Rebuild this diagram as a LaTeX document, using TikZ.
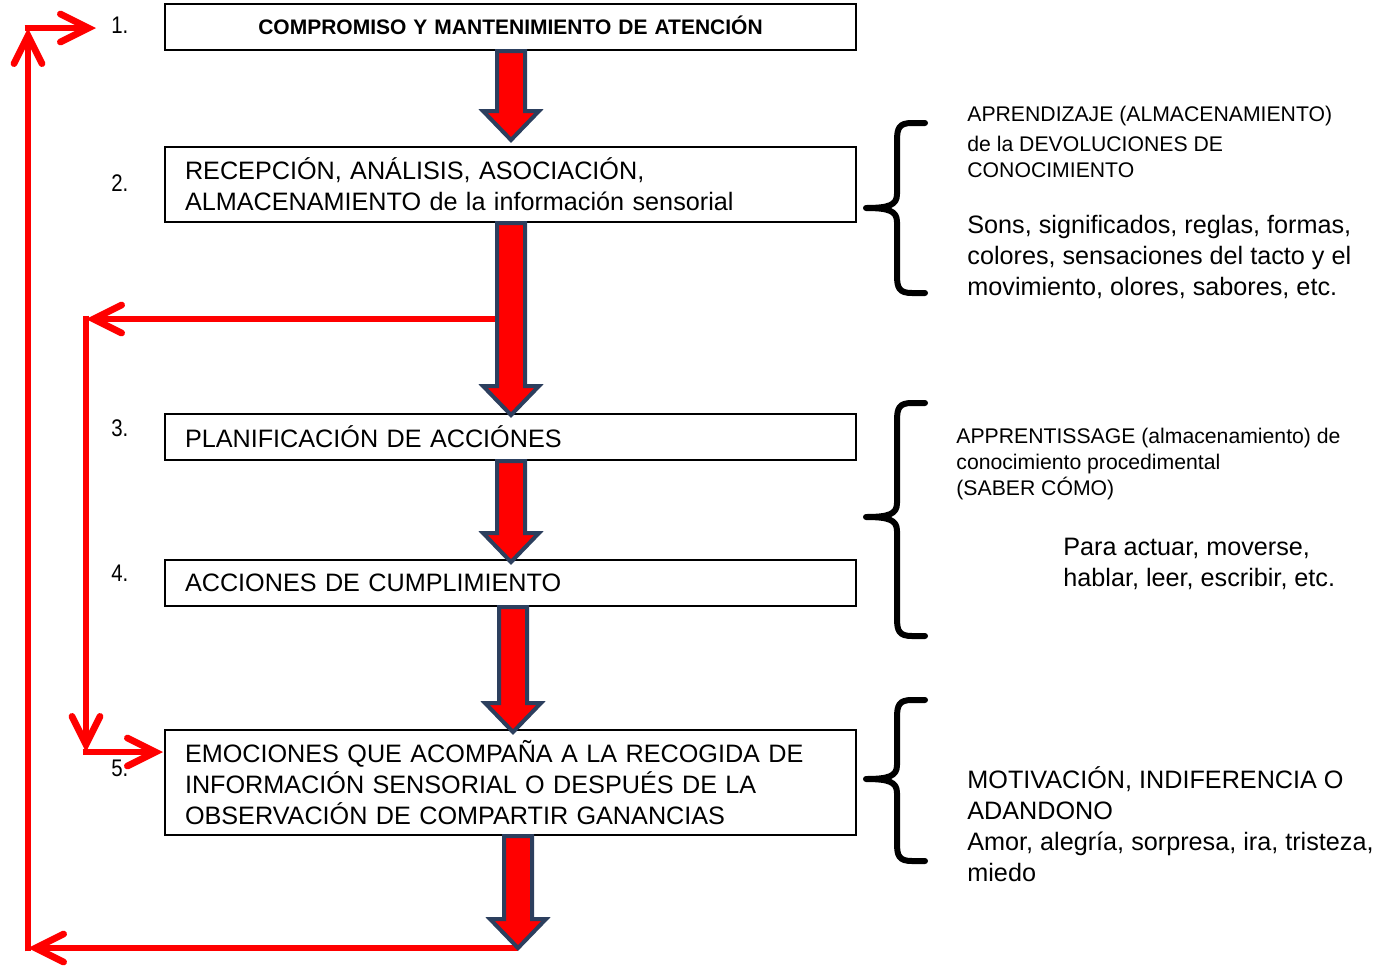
\documentclass[tikz,border=0pt]{standalone}
\usepackage{fontspec}
\setmainfont{Liberation Sans}
\usetikzlibrary{arrows.meta,calc}
\definecolor{arrowedge}{HTML}{2C3F5E}
\definecolor{loopred}{HTML}{FF0000}
\newcommand\blockarrow[2]{%
  \filldraw[blockarr] let \p1=#1, \p2=#2 in
   (\x2-7pt,\y1) -- (\x2+7pt,\y1) -- (\x2+7pt,\y2+14.5pt) -- (\x2+14pt,\y2+14.5pt)
   -- (\x2,\y2) -- (\x2-14pt,\y2+14.5pt) -- (\x2-7pt,\y2+14.5pt) -- cycle;}
\newcommand\curlybrace[3]{%
  \draw[bracestroke] (925,#1) -- (912,#1) .. controls (899,#1) and (897,#1+5) .. (897,#1+18)
   -- (897,#2-14) .. controls (897,#2-3) and (889,#2) .. (866,#2)
   .. controls (889,#2) and (897,#2+3) .. (897,#2+14)
   -- (897,#3-18) .. controls (897,#3-5) and (899,#3) .. (912,#3) -- (925,#3);}
\begin{document}
\begin{tikzpicture}[x=0.5pt,y=-0.5pt,
  box/.style={draw=black,line width=1pt,fill=white,minimum width=345.5pt,
    inner xsep=10pt,inner ysep=0pt,text width=325.5pt,align=left,
    font=\fontsize{12.6}{15.5}\selectfont},
  num/.style={anchor=base west,inner sep=0pt,
    font=\addfontfeature{FakeStretch=0.85}\fontsize{12}{12}\selectfont},
  bigtext/.style={anchor=base west,inner sep=0pt,align=left,
    font=\fontsize{12.6}{15.5}\selectfont},
  smalltext/.style={anchor=base west,inner sep=0pt,align=left,
    font=\fontsize{10.6}{13}\selectfont},
  blockarr/.style={fill=loopred,draw=arrowedge,line width=2pt,line join=miter},
  loopline/.style={draw=loopred,line width=3.4pt,
    -{Straight Barb[length=14pt,width=14pt,line cap=round]}},
  bracestroke/.style={draw=black,line width=3pt,line cap=round,line join=round}]
\useasboundingbox (0,0) rectangle (1382,965);

% boxes
\node[box,minimum height=23pt,align=center,
  font=\bfseries\fontsize{10.5}{12}\selectfont] (b1) at (510.5,27)
  {\raisebox{1.5pt}{COMPROMISO Y MANTENIMIENTO DE ATENCIÓN}};
\node[box,minimum height=37.5pt] (b2) at (510.5,184.5)
  {RECEPCIÓN, ANÁLISIS, ASOCIACIÓN,\\ALMACENAMIENTO de la información sensorial};
\node[box,minimum height=23pt] (b3) at (510.5,437) {PLANIFICACIÓN DE ACCIÓNES};
\node[box,minimum height=23pt] (b4) at (510.5,583) {ACCIONES DE CUMPLIMIENTO};
\node[box,minimum height=52.5pt] (b5) at (510.5,782.5)
  {EMOCIONES QUE ACOMPAÑA A LA RECOGIDA DE\\INFORMACIÓN SENSORIAL O DESPUÉS DE LA\\OBSERVACIÓN DE COMPARTIR GANANCIAS};

% numbers
\node[num] (n1) at (111,33) {1.};
\node[num] (n2) at (111,191) {2.};
\node[num] (n3) at (111,436) {3.};
\node[num] (n4) at (111,581) {4.};
\node[num] (n5) at (111,776) {5.};

% coordinates for arrow tips and loop corners
\coordinate (a1) at (511,140);
\coordinate (a2) at (511,415);
\coordinate (a3) at (511,562);
\coordinate (a4) at (513,732);
\coordinate (a5) at (518,948);
\coordinate (tl) at (28,28);
\coordinate (tr) at (96,28);
\coordinate (bl) at (28,948);
\coordinate (jn) at (511,319);
\coordinate (il) at (86,319);
\coordinate (ib) at (86,752);
\coordinate (ie) at (163,752);

% red loops
\draw[loopline] (a5) -- (bl);
\draw[loopline,shorten <=-1.7pt] (bl) -- (tl);
\draw[loopline,shorten <=-1.7pt] (tl) -- (tr);
\draw[loopline] (jn) -- (il);
\draw[loopline,shorten <=-1.7pt] (il) -- (ib);
\draw[loopline,shorten <=-1.7pt] (ib) -- (ie);

% block arrows
\blockarrow{(b1.south)}{(a1)}
\blockarrow{(b2.south)}{(a2)}
\blockarrow{(b3.south)}{(a3)}
\blockarrow{(b4.south)}{(a4)}
\blockarrow{(b5.south)}{(a5)}

% braces
\curlybrace{123}{208}{293}
\curlybrace{403}{517}{636}
\curlybrace{700}{779}{861}

% right texts (anchored at the baseline of the last line)
\node[smalltext] (t1) at (967,121.5) {APRENDIZAJE (ALMACENAMIENTO)};
\node[smalltext] (t2) at (967,177.5) {de la DEVOLUCIONES DE\\CONOCIMIENTO};
\node[bigtext] (t3) at (967,295) {Sons, significados, reglas, formas,\\colores, sensaciones del tacto y el\\movimiento, olores, sabores, etc.};
\node[smalltext] (t4) at (956,495.5) {APPRENTISSAGE (almacenamiento) de\\conocimiento procedimental\\(SABER CÓMO)};
\node[bigtext] (t5) at (1063,586) {Para actuar, moverse,\\hablar, leer, escribir, etc.};
\node[bigtext] (t6) at (967,881) {MOTIVACIÓN, INDIFERENCIA O\\ADANDONO\\Amor, alegría, sorpresa, ira, tristeza,\\miedo};
\end{tikzpicture}
\end{document}
